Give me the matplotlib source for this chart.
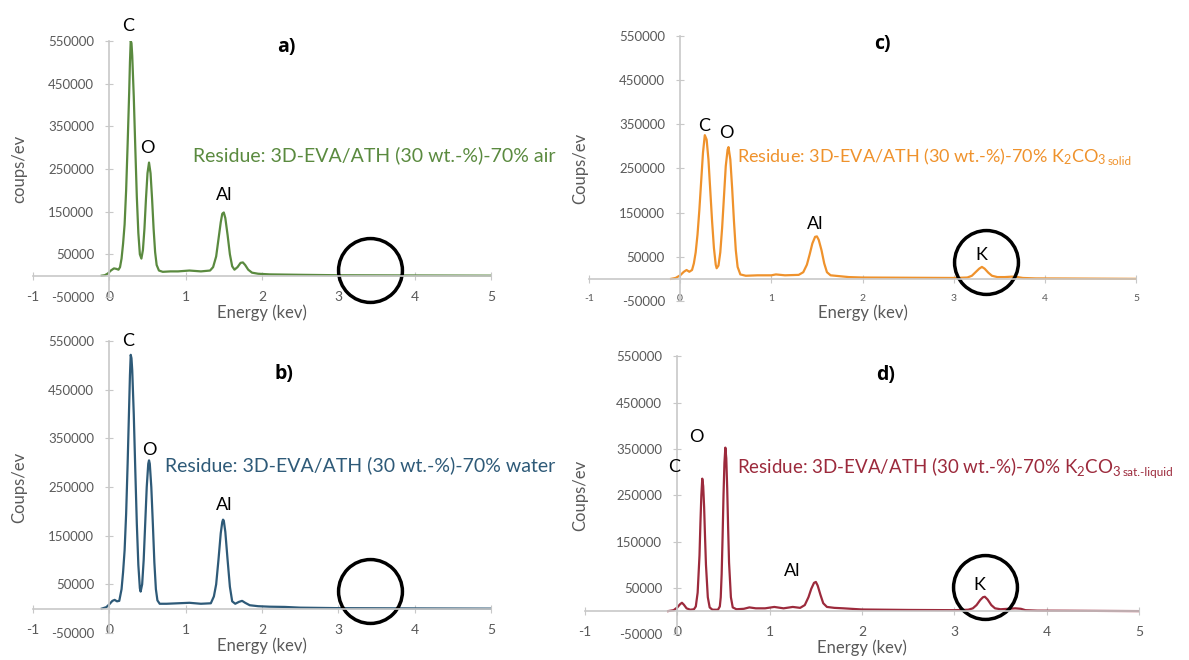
# -----------------------------
#   IMPORTS
# -----------------------------
import matplotlib
matplotlib.use("Agg")
import matplotlib.pyplot as plt

# -----------------------------
#   DATA
# -----------------------------
# EDX spectra (energy in keV, counts per eV)
energyA = [-0.10, -0.06, -0.02, 0.02, 0.06, 0.09, 0.12, 0.14, 0.16, 0.18, 0.20, 0.22, 0.24, 0.26,
           0.27, 0.28, 0.29, 0.30, 0.32, 0.34, 0.36, 0.38, 0.40, 0.42, 0.44, 0.46, 0.48, 0.50,
           0.52, 0.54, 0.56, 0.58, 0.60, 0.62, 0.65, 0.70, 0.80, 0.90, 1.05, 1.20, 1.32, 1.36,
           1.40, 1.43, 1.46, 1.48, 1.50, 1.52, 1.55, 1.58, 1.61, 1.64, 1.68, 1.72, 1.75, 1.78,
           1.82, 1.87, 1.95, 2.10, 2.50, 3.00, 4.00, 5.00]
countsA = [0, 1000, 5000, 12000, 17000, 16000, 14000, 20000, 40000, 75000, 120000, 200000,
           310000, 430000, 500000, 550000, 545000, 515000, 420000, 300000, 185000, 100000,
           50000, 40000, 60000, 110000, 180000, 240000, 265000, 240000, 180000, 110000, 55000,
           25000, 12000, 9000, 10000, 10000, 12000, 10000, 12000, 20000, 45000, 85000, 125000,
           145000, 148000, 135000, 95000, 50000, 22000, 14000, 20000, 30000, 31000, 25000,
           14000, 7000, 4500, 3000, 2000, 1000, 500, 0]

energyB = [-0.10, -0.04, 0.00, 0.04, 0.07, 0.10, 0.13, 0.16, 0.18, 0.20, 0.22, 0.24, 0.26, 0.27,
           0.28, 0.29, 0.30, 0.32, 0.34, 0.36, 0.38, 0.40, 0.41, 0.43, 0.45, 0.47, 0.49, 0.51,
           0.52, 0.53, 0.55, 0.57, 0.59, 0.61, 0.63, 0.66, 0.75, 0.90, 1.05, 1.20, 1.33, 1.37,
           1.40, 1.43, 1.46, 1.48, 1.49, 1.50, 1.52, 1.55, 1.58, 1.61, 1.65, 1.70, 1.74, 1.78,
           1.84, 1.95, 2.10, 2.30, 2.50, 3.00, 4.00, 5.00]
countsB = [0, 3000, 9000, 16000, 18000, 15000, 16000, 40000, 75000, 120000, 195000, 300000,
           420000, 480000, 522000, 515000, 490000, 400000, 285000, 175000, 90000, 42000, 35000,
           50000, 100000, 175000, 250000, 298000, 305000, 298000, 250000, 175000, 95000, 40000,
           17000, 10000, 10000, 11000, 12000, 10000, 11000, 25000, 50000, 100000, 155000,
           178000, 183000, 181000, 158000, 100000, 45000, 15000, 10000, 14000, 16000, 12000,
           7000, 5000, 4000, 3500, 2000, 1000, 500, 0]

energyC = [-0.10, -0.05, 0.00, 0.04, 0.07, 0.10, 0.13, 0.15, 0.17, 0.19, 0.21, 0.23, 0.25, 0.27,
           0.29, 0.31, 0.33, 0.35, 0.37, 0.39, 0.40, 0.42, 0.44, 0.46, 0.48, 0.50, 0.52, 0.53,
           0.55, 0.57, 0.59, 0.61, 0.63, 0.66, 0.72, 0.85, 1.00, 1.05, 1.15, 1.30, 1.35, 1.39,
           1.42, 1.45, 1.48, 1.50, 1.52, 1.55, 1.58, 1.61, 1.65, 1.75, 1.85, 2.00, 2.50, 3.00,
           3.15, 3.20, 3.24, 3.28, 3.31, 3.34, 3.38, 3.42, 3.48, 3.56, 3.64, 3.70, 3.76, 3.90,
           4.20, 5.00]
countsC = [0, 2000, 8000, 16000, 20000, 16000, 20000, 35000, 60000, 100000, 155000, 220000,
           285000, 325000, 315000, 270000, 200000, 130000, 70000, 32000, 24000, 30000, 60000,
           115000, 185000, 255000, 292000, 298000, 270000, 205000, 130000, 65000, 27000, 10000,
           7000, 8000, 8000, 10000, 8000, 9000, 15000, 32000, 55000, 80000, 95000, 96000,
           88000, 65000, 35000, 15000, 8000, 6000, 4000, 3000, 2500, 2000, 3000, 7000, 15000,
           23000, 27000, 23000, 14000, 7000, 4000, 4000, 5000, 4000, 2000, 1000, 800, 0]

energyD = [-0.10, -0.04, 0.00, 0.03, 0.05, 0.07, 0.10, 0.14, 0.18, 0.20, 0.22, 0.24, 0.25, 0.26,
           0.27, 0.28, 0.29, 0.30, 0.31, 0.33, 0.35, 0.38, 0.44, 0.46, 0.47, 0.48, 0.49, 0.50,
           0.51, 0.52, 0.53, 0.54, 0.55, 0.56, 0.58, 0.60, 0.64, 0.72, 0.78, 0.85, 0.95, 1.05,
           1.15, 1.25, 1.33, 1.38, 1.42, 1.45, 1.48, 1.50, 1.52, 1.55, 1.58, 1.62, 1.70, 1.80,
           2.00, 2.50, 3.00, 3.15, 3.20, 3.24, 3.28, 3.31, 3.33, 3.36, 3.40, 3.44, 3.50, 3.58,
           3.66, 3.72, 3.77, 3.90, 4.20, 5.00]
countsD = [0, 2000, 8000, 15000, 18000, 14000, 6000, 3000, 4000, 10000, 40000, 120000, 190000,
           250000, 286000, 270000, 225000, 160000, 100000, 30000, 8000, 3000, 3000, 10000,
           30000, 80000, 160000, 250000, 320000, 353000, 330000, 265000, 180000, 105000, 30000,
           8000, 4000, 5000, 8000, 6000, 6000, 9000, 6000, 9000, 7000, 13000, 30000, 48000,
           61000, 63000, 55000, 35000, 17000, 9000, 7000, 6000, 3500, 2500, 2000, 3000, 6000,
           13000, 24000, 30000, 31000, 25000, 13000, 6000, 4000, 5000, 6000, 5000, 2000, 1000,
           800, 0]

# Axis ticks
xTicks = [-1, 0, 1, 2, 3, 4, 5]
xTickLabels = ["-1", "0", "1", "2", "3", "4", "5"]
yTicks = [-50000, 50000, 150000, 250000, 350000, 450000, 550000]
yTickLabels = ["-50000", "50000", "150000", "250000", "350000", "450000", "550000"]

# Peak labels (element, energy, counts) per panel
peaksA = [("C", 0.24, 585000), ("O", 0.50, 299000), ("Al", 1.50, 190000)]
peaksB = [("C", 0.24, 550000), ("O", 0.53, 327000), ("Al", 1.50, 214000)]
peaksC = [("C", 0.26, 346000), ("O", 0.51, 330000), ("Al", 1.48, 124000), ("K", 3.30, 54000)]
peaksD = [("C", -0.04, 312000), ("O", 0.21, 377000), ("Al", 1.24, 86000), ("K", 3.27, 56000)]

# Highlight circles (energy, counts) per panel
circleA = (3.41, 13000)
circleB = (3.41, 36000)
circleC = (3.35, 38000)
circleD = (3.33, 53000)

# -----------------------------
#   STYLE
# -----------------------------
plt.rcParams["font.family"] = ["Lato", "DejaVu Sans"]
plt.rcParams["mathtext.default"] = "regular"
axisGray = "#c8c8c8"
textGray = "#595959"


def draw_panel(ax, energy, counts, color, peaks, circle, letter, letterPos, caption, captionPos,
               captionSize, subscript, ylabel, ylabelPad, xTickSize):
    # Spectrum line
    ax.plot(energy, counts, color=color, lw=1.6, solid_joinstyle="round")
    ax.set_xlim(-1, 5)
    ax.set_ylim(-50000, 550000)
    # Excel-like crossing axes: y axis at x=0, x axis at y=0
    for side in ["top", "right"]:
        ax.spines[side].set_visible(False)
    ax.spines["left"].set_position(("data", 0))
    ax.spines["bottom"].set_position(("data", 0))
    for side in ["left", "bottom"]:
        ax.spines[side].set_color(axisGray)
        ax.spines[side].set_linewidth(1.2)
    ax.set_xticks(xTicks)
    ax.set_xticklabels(xTickLabels)
    ax.set_yticks(yTicks)
    ax.set_yticklabels(yTickLabels)
    ax.tick_params(axis="x", direction="inout", length=6, color=axisGray, labelcolor=textGray,
                   labelsize=xTickSize, pad=8)
    ax.tick_params(axis="y", direction="inout", length=6, color=axisGray, labelcolor=textGray,
                   labelsize=9.5, pad=8)
    ax.set_xlabel("Energy (kev)", color=textGray, fontsize=12, labelpad=1)
    ax.set_ylabel(ylabel, color=textGray, fontsize=12, labelpad=ylabelPad)
    ax.patch.set_alpha(0)
    # Element labels
    for name, ex, ey in peaks:
        ax.text(ex, ey, name, fontsize=13, ha="center", va="center", clip_on=False)
    # Panel letter
    ax.text(letterPos[0], letterPos[1], letter, fontsize=14, fontweight="bold",
            family=["Open Sans", "DejaVu Sans"], ha="center", va="center")
    # Caption in series colour
    t = ax.text(captionPos[0], captionPos[1], caption, color=color, fontsize=captionSize,
                va="center")
    if subscript:
        ax.annotate(subscript, xy=(1, 0), xycoords=t, xytext=(1, 0), textcoords="offset points",
                    fontsize=8.5, color=color, va="bottom", ha="left", annotation_clip=False)
    # Highlight circle
    ax.plot(circle[0], circle[1], "o", ms=46, mfc="none", mec="black", mew=2.5, clip_on=False)


# -----------------------------
#   FIGURE
# -----------------------------
fig = plt.figure(figsize=(11.89, 6.6), dpi=100)
axA = fig.add_axes([0.0278, 0.550, 0.385, 0.388])
axC = fig.add_axes([0.4954, 0.544, 0.460, 0.402])
axB = fig.add_axes([0.0278, 0.041, 0.385, 0.442])
axD = fig.add_axes([0.4920, 0.039, 0.466, 0.421])

draw_panel(axA, energyA, countsA, "#5a8a3f", peaksA, circleA, "a)", (2.32, 536000),
           "Residue: 3D-EVA/ATH (30 wt.-%)-70% air", (1.09, 283000), 14, None,
           "coups/ev", 15, 10)
draw_panel(axB, energyB, countsB, "#2e5a78", peaksB, circleB, "b)", (2.29, 482000),
           "Residue: 3D-EVA/ATH (30 wt.-%)-70% water", (0.73, 296000), 14, None,
           "Coups/ev", 15, 10)
draw_panel(axC, energyC, countsC, "#ef922c", peaksC, circleC, "c)", (2.22, 532000),
           "Residue: 3D-EVA/ATH (30 wt.-%)-70% K$_2$CO$_3$", (0.62, 276000), 13, "solid",
           "Coups/ev", 22, 7.5)
draw_panel(axD, energyD, countsD, "#9c2a3c", peaksD, circleD, "d)", (2.26, 509000),
           "Residue: 3D-EVA/ATH (30 wt.-%)-70% K$_2$CO$_3$", (0.645, 312000), 13.5,
           "sat.-liquid", "Coups/ev", 20, 10)

fig.savefig("out.png", dpi=100)
